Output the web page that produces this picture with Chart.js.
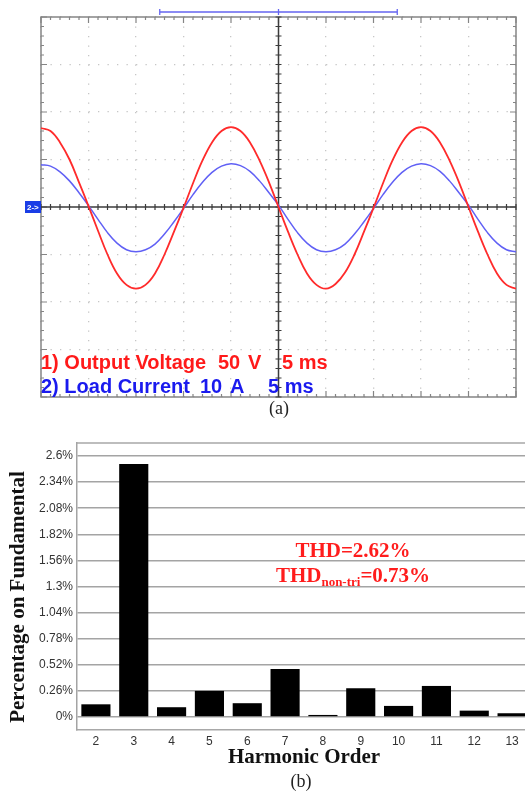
<!DOCTYPE html>
<html>
<head>
<meta charset="utf-8">
<script src="https://cdn.jsdelivr.net/npm/chart.js@4.4.1/dist/chart.umd.min.js"></script>
<style>
html, body { margin: 0; padding: 0; background: #fff; }
#page { position: relative; width: 525px; height: 791px; overflow: hidden; }
#scope { position: absolute; left: 0; top: 0; }
#harm { position: absolute; left: 0; top: 420px; }
.cap { position: absolute; font-family: "Liberation Serif", serif; font-size: 18px; color: #222; transform: translateX(-50%); line-height: 20px; }
</style>
</head>
<body>
<div id="page">
  <canvas id="scope" width="525" height="400"></canvas>
  <div class="cap" style="left:279px;top:398px">(a)</div>
  <canvas id="harm" width="540" height="371"></canvas>
  <div class="cap" style="left:301px;top:771px">(b)</div>
</div>
<script>
// Oscilloscope trace (a): time in ms, 5 ms/div, 10 divisions
const timeMs = [0, 1, 2, 3, 4, 5, 6, 7, 8, 9, 10, 11, 12, 13, 14, 15, 16, 17, 18, 19, 20,
    21, 22, 23, 24, 25, 26, 27, 28, 29, 30, 31, 32, 33, 34, 35, 36, 37, 38, 39, 40,
    41, 42, 43, 44, 45, 46, 47, 48, 49, 50];

// Canal 1 - tensão de saída (V), 50 V/div
const voltageV = [83, 80, 68, 50, 26, 1, -25, -50, -70, -82, -86, -82, -70, -50, -26, -1, 25, 49, 68, 80, 84,
    80, 68, 49, 26, 0, -26, -50, -70, -82, -86, -81, -69, -50, -26, -1, 25, 49, 68, 80, 84,
    80, 68, 49, 26, 0, -26, -50, -70, -82, -86];

// Canal 2 - corrente de carga (A), 10 A/div
const currentA = [8.9, 8.6, 7.4, 5.5, 3.0, 0.3, -2.6, -5.4, -7.6, -9.0, -9.4, -9.0, -7.8, -5.7, -3.1, -0.3, 2.6, 5.2, 7.3, 8.6, 9.1,
    8.7, 7.5, 5.5, 3.0, 0.4, -2.6, -5.4, -7.6, -9.0, -9.4, -9.0, -7.8, -5.7, -3.1, -0.3, 2.6, 5.2, 7.3, 8.6, 9.1,
    8.7, 7.5, 5.5, 3.0, 0.4, -2.6, -5.4, -7.6, -9.0, -9.4];

// Harmonic spectrum (b)
const harmonicOrders = ['2', '3', '4', '5', '6', '7', '8', '9', '10', '11', '12', '13'];
const harmonicPct = [0.126, 2.52, 0.097, 0.26, 0.137, 0.478, 0.02, 0.286, 0.11, 0.309, 0.063, 0.037];
const pctTicks = [0, 0.26, 0.52, 0.78, 1.04, 1.3, 1.56, 1.82, 2.08, 2.34, 2.6];
const pctTickLabels = ['0%', '0.26%', '0.52%', '0.78%', '1.04%', '1.3%', '1.56%', '1.82%', '2.08%', '2.34%', '2.6%'];

const SANS = '"Liberation Sans", Arial, sans-serif';
const SERIF = '"Liberation Serif", "Times New Roman", serif';

// Moldura, eixos centrais e marcas do osciloscópio
const scopeDecor = {
    id: 'scopeDecor',
    beforeDatasetsDraw(chart) {
        const { ctx, chartArea: a, scales: { x, y } } = chart;
        ctx.save();
        ctx.strokeStyle = '#858585';
        ctx.lineWidth = 1.5;
        ctx.strokeRect(a.left, a.top, a.right - a.left, a.bottom - a.top);

        ctx.lineWidth = 1.2;
        ctx.beginPath();
        for (let t = 0; t <= 50; t += 1) {
            const px = x.getPixelForValue(t);
            const len = t % 5 === 0 ? 6 : 3;
            ctx.moveTo(px, a.top); ctx.lineTo(px, a.top + len);
            ctx.moveTo(px, a.bottom); ctx.lineTo(px, a.bottom - len);
        }
        for (let v = -200; v <= 200; v += 10) {
            const py = y.getPixelForValue(v);
            const len = v % 50 === 0 ? 6 : 3;
            ctx.moveTo(a.left, py); ctx.lineTo(a.left + len, py);
            ctx.moveTo(a.right, py); ctx.lineTo(a.right - len, py);
        }
        ctx.stroke();

        // eixos centrais
        const cx = x.getPixelForValue(25);
        const cy = y.getPixelForValue(0);
        ctx.strokeStyle = '#3c3c3c';
        ctx.lineWidth = 1.5;
        ctx.beginPath();
        ctx.moveTo(a.left, cy); ctx.lineTo(a.right, cy);
        ctx.moveTo(cx, a.top); ctx.lineTo(cx, a.bottom);
        ctx.stroke();
        ctx.lineWidth = 1.2;
        ctx.beginPath();
        for (let t = 0; t <= 50; t += 1) {
            const px = x.getPixelForValue(t);
            ctx.moveTo(px, cy - 3); ctx.lineTo(px, cy + 3);
        }
        for (let v = -200; v <= 200; v += 10) {
            const py = y.getPixelForValue(v);
            ctx.moveTo(cx - 3, py); ctx.lineTo(cx + 3, py);
        }
        ctx.stroke();
        ctx.restore();
    },
    afterDraw(chart) {
        const { ctx, chartArea: a, scales: { x, y } } = chart;
        ctx.save();

        // barra azul no topo
        const bx1 = x.getPixelForValue(12.5), bx2 = x.getPixelForValue(37.5), bxm = x.getPixelForValue(25);
        ctx.strokeStyle = '#6464f0';
        ctx.lineWidth = 1.3;
        ctx.beginPath();
        ctx.moveTo(bx1, 12); ctx.lineTo(bx2, 12);
        [bx1, bxm, bx2].forEach(px => { ctx.moveTo(px, 9); ctx.lineTo(px, 15); });
        ctx.stroke();

        // marcador do canal 2
        const cy = y.getPixelForValue(0);
        ctx.fillStyle = '#1a3de6';
        ctx.fillRect(a.left - 16, cy - 6, 16, 12);
        ctx.fillStyle = '#fff';
        ctx.font = 'bold 8px ' + SANS;
        ctx.textBaseline = 'middle';
        ctx.fillText('2->', a.left - 14, cy + 0.5);

        // legendas dos canais
        ctx.textBaseline = 'alphabetic';
        ctx.font = 'bold 20px ' + SANS;
        ctx.fillStyle = '#ff1a1a';
        ctx.fillText('1) Output Voltage', 41, 369);
        ctx.fillText('50', 218, 369);
        ctx.fillText('V', 248, 369);
        ctx.fillText('5 ms', 282, 369);
        ctx.fillStyle = '#1a1aee';
        ctx.fillText('2) Load Current', 41, 393);
        ctx.fillText('10', 200, 393);
        ctx.fillText('A', 230, 393);
        ctx.fillText('5 ms', 268, 393);
        ctx.restore();
    }
};

const dotGrid = { color: '#c6c6c6', lineWidth: 1.3, drawTicks: false };

new Chart(document.getElementById('scope'), {
    type: 'line',
    data: {
        datasets: [
            {
                label: 'Output Voltage',
                data: timeMs.map((t, i) => ({ x: t, y: voltageV[i] })),
                borderColor: '#ff2b2b',
                borderWidth: 1.8,
                pointRadius: 0,
                tension: 0.4,
                yAxisID: 'y'
            },
            {
                label: 'Load Current',
                data: timeMs.map((t, i) => ({ x: t, y: currentA[i] })),
                borderColor: '#6060f5',
                borderWidth: 1.5,
                pointRadius: 0,
                tension: 0.4,
                yAxisID: 'yA'
            }
        ]
    },
    options: {
        responsive: false,
        animation: false,
        devicePixelRatio: 1,
        layout: { padding: { left: 41, right: 9, top: 17, bottom: 3 } },
        plugins: { legend: { display: false }, tooltip: { enabled: false } },
        scales: {
            x: {
                type: 'linear', min: 0, max: 50,
                ticks: { display: false, stepSize: 5 },
                grid: dotGrid,
                border: { display: false, dash: [1.3, 8.2] },
                afterFit(s) { s.height = 0; }
            },
            y: {
                min: -200, max: 200,
                ticks: { display: false, stepSize: 50 },
                grid: dotGrid,
                border: { display: false, dash: [1.3, 8.2] },
                afterFit(s) { s.width = 0; }
            },
            yA: { min: -40, max: 40, display: false }
        }
    },
    plugins: [scopeDecor]
});

// Moldura superior, título do eixo Y e textos de THD
const harmDecor = {
    id: 'harmDecor',
    afterDraw(chart) {
        const { ctx, chartArea: a } = chart;
        ctx.save();
        ctx.strokeStyle = '#a8a8a8';
        ctx.lineWidth = 1.5;
        ctx.beginPath();
        ctx.moveTo(a.left, a.top); ctx.lineTo(a.right, a.top); ctx.lineTo(a.right, a.bottom);
        ctx.stroke();

        // título do eixo Y
        ctx.save();
        ctx.translate(19, 177);
        ctx.rotate(-Math.PI / 2);
        ctx.font = 'bold 21px ' + SERIF;
        ctx.fillStyle = '#111';
        ctx.textAlign = 'center';
        ctx.textBaseline = 'middle';
        ctx.fillText('Percentage on Fundamental', 0, 0);
        ctx.restore();

        ctx.fillStyle = '#ff1c1c';
        ctx.textBaseline = 'alphabetic';
        const big = 'bold 21px ' + SERIF;
        const small = 'bold 13px ' + SERIF;
        ctx.font = big;
        ctx.textAlign = 'center';
        ctx.fillText('THD=2.62%', 353, 137);

        ctx.textAlign = 'left';
        const w1 = ctx.measureText('THD').width;
        const w3 = ctx.measureText('=0.73%').width;
        ctx.font = small;
        const w2 = ctx.measureText('non-tri').width;
        let sx = 353 - (w1 + w2 + w3) / 2;
        ctx.font = big;
        ctx.fillText('THD', sx, 162);
        ctx.font = small;
        ctx.fillText('non-tri', sx + w1, 166);
        ctx.font = big;
        ctx.fillText('=0.73%', sx + w1 + w2, 162);
        ctx.restore();
    }
};

new Chart(document.getElementById('harm'), {
    type: 'bar',
    data: {
        labels: harmonicOrders,
        datasets: [{
            label: 'Harmonic',
            data: harmonicPct,
            backgroundColor: '#000',
            borderColor: '#222',
            borderWidth: 0,
            barPercentage: 0.77,
            categoryPercentage: 1
        }]
    },
    options: {
        responsive: false,
        animation: false,
        devicePixelRatio: 1,
        layout: { padding: { left: 0, right: 9, top: 23, bottom: 0 } },
        plugins: { legend: { display: false }, tooltip: { enabled: false } },
        scales: {
            x: {
                grid: { display: false, drawTicks: false },
                border: { display: true, color: '#a8a8a8', width: 1.5 },
                ticks: { color: '#333', font: { family: SANS, size: 12 }, padding: 4 },
                title: {
                    display: true, text: 'Harmonic Order', color: '#111',
                    font: { family: SERIF, size: 21, weight: 'bold' },
                    padding: { top: 0, bottom: 21 }
                },
                afterFit(s) { s.height = 61; }
            },
            y: {
                min: -0.13, max: 2.73,
                afterBuildTicks(s) { s.ticks = pctTicks.map(v => ({ value: v })); },
                ticks: {
                    color: '#333', font: { family: SANS, size: 12 }, padding: 4,
                    callback: (v, i) => pctTickLabels[i]
                },
                grid: { color: '#a4a4a4', lineWidth: 1.5, drawTicks: false },
                border: { display: true, color: '#a4a4a4', width: 1.5 },
                afterFit(s) { s.width = 77; }
            }
        }
    },
    plugins: [harmDecor]
});
</script>
</body>
</html>
